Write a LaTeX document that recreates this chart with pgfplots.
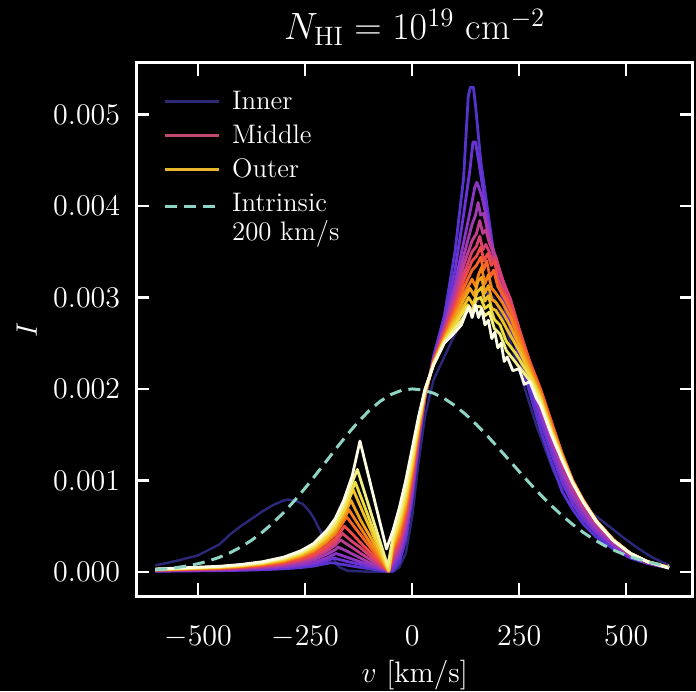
\RequirePackage{fix-cm}
\documentclass[border=0pt]{standalone}
\usepackage{fontspec}
\usepackage{pgfplots}
\pgfplotsset{compat=1.18}
\usetikzlibrary{backgrounds}
\definecolor{c0}{HTML}{2C2878}
\definecolor{c1}{HTML}{5533CC}
\definecolor{c2}{HTML}{6A33D6}
\definecolor{c3}{HTML}{8A35C8}
\definecolor{c4}{HTML}{A23AB0}
\definecolor{c5}{HTML}{C03C90}
\definecolor{c6}{HTML}{D84070}
\definecolor{c7}{HTML}{EE4A48}
\definecolor{c8}{HTML}{F56428}
\definecolor{c9}{HTML}{F58218}
\definecolor{c10}{HTML}{F2A21A}
\definecolor{c11}{HTML}{F0C028}
\definecolor{c12}{HTML}{EEDC40}
\definecolor{c13}{HTML}{F2EE88}
\definecolor{c14}{HTML}{FBFBE6}
\definecolor{legin}{HTML}{2E2A78}
\definecolor{legmid}{HTML}{C04A6E}
\definecolor{legout}{HTML}{E8B82C}
\definecolor{intr}{HTML}{8ED3C3}
\pgfplotsset{
  lineleg/.style={legend image code/.code={\draw[##1] (0pt,1.3pt) -- (26.7pt,1.3pt);}},
  dashleg/.style={legend image code/.code={\draw[##1] (0pt,-0.3pt) -- (26.7pt,-0.3pt);}},
}
\begin{document}
\begin{tikzpicture}
\begin{axis}[
  scale only axis, width=278.25pt, height=266.5pt,
  xmin=-644, xmax=656, ymin=-0.000265, ymax=0.005565,
  axis line style={white, line width=1.5pt},
  tick style={white, line width=1.25pt},
  major tick length=6.5pt,
  tick align=inside,
  xtick={-500,-250,0,250,500},
  ytick={0,0.001,0.002,0.003,0.004,0.005},
  minor tick num=0,
  scaled y ticks=false,
  tick label style={white, font=\fontsize{15}{18}\selectfont},
  y tick label style={/pgf/number format/fixed, /pgf/number format/fixed zerofill, /pgf/number format/precision=3, anchor=east, inner sep=0pt, xshift=-8pt},
  x tick label style={anchor=base, yshift=-24.5pt},
  xlabel={$v$ [km/s]},
  ylabel={$I$},
  xlabel style={at={(axis description cs:0.5,-0.1614)}, anchor=base, white, font=\fontsize{14.8}{17}\selectfont},
  ylabel style={at={(axis description cs:-0.1973,0.5)}, anchor=center, white, font=\fontsize{14.8}{17}\selectfont},
  every axis title shift=0pt,
  title={$N_{\mathrm{HI}} = 10^{19}\ \mathrm{cm}^{-2}$},
  title style={at={(axis description cs:0.5,1.0432)}, anchor=base, white, font=\fontsize{19}{22}\selectfont},
  no markers,
  every axis plot/.append style={line width=1.4pt, line join=round},
  legend cell align=left,
  legend style={at={(axis description cs:0.0482,0.9467)}, anchor=north west, draw=none, fill=none, text=white,
    font=\fontsize{13.4}{14}\selectfont, row sep=5pt, column sep=6pt, inner sep=0pt,
    nodes={inner sep=0pt, text height=9pt, text depth=3pt}},
]
% Inner (navy)
\addplot[c0, line width=1.2pt, forget plot] coordinates {(-600,0.00007) (-550,0.00012) (-500,0.00018) (-450,0.0003) (-425,0.00041) (-400,0.0005) (-375,0.00058) (-350,0.00066) (-325,0.00073) (-300,0.00078) (-290,0.00079) (-275,0.00078) (-255,0.00074) (-240,0.00066) (-230,0.00059) (-215,0.00045) (-200,0.0003) (-185,0.00015) (-170,0.00005) (-150,0.00001) (-100,0) (-45,0) (-30,0.00005) (-15,0.0002) (0,0.0006) (15,0.0012) (30,0.0017) (50,0.0021) (80,0.0024) (100,0.0026) (120,0.0028) (140,0.0029) (160,0.003) (175,0.00305) (190,0.003) (210,0.0028) (230,0.0025) (250,0.0022) (270,0.0019) (290,0.0016) (310,0.00135) (330,0.0011) (350,0.00092) (380,0.0008) (410,0.00068) (440,0.00057) (470,0.00046) (500,0.00035) (530,0.00025) (560,0.00016) (600,0.00007)};
\addplot[c1, forget plot] coordinates {(-600,0.000006) (-550,0.000008) (-500,0.00001) (-450,0.000012) (-400,0.000016) (-350,0.000022) (-300,0.000032) (-260,0.000046) (-230,0.000062) (-200,0.00009) (-190,0.0001) (-160,0.000078) (-130,0.000055) (-100,0.000033) (-75,0.000015) (-55,0.000002) (-45,0.00001) (-30,0.0001) (-15,0.00035) (0,0.0008) (15,0.0014) (30,0.0019) (50,0.00236) (75,0.0028) (100,0.0035) (120,0.0043) (131,0.0052) (136,0.0053) (143,0.0053) (148,0.0051) (160,0.0045) (175,0.004) (193,0.0034) (210,0.003) (230,0.00265) (250,0.00235) (272,0.002) (300,0.00155) (325,0.0012) (350,0.00088) (375,0.00068) (400,0.00052) (430,0.00038) (470,0.00025) (510,0.00015) (550,0.00009) (600,0.00004)};
\addplot[c2, forget plot] coordinates {(-600,0.000008) (-550,0.000011) (-500,0.000014) (-450,0.000016) (-400,0.000022) (-350,0.00003) (-300,0.000043) (-260,0.000062) (-230,0.000084) (-200,0.00012) (-183,0.00015) (-150,0.00011) (-120,0.00008) (-90,0.000045) (-70,0.00002) (-55,0.000005) (-45,0.000045) (-30,0.00015) (-15,0.0004) (0,0.00084) (15,0.00142) (30,0.00191) (50,0.00234) (75,0.00275) (100,0.0033) (120,0.0039) (135,0.0044) (142,0.0047) (148,0.0047) (155,0.0045) (165,0.0042) (175,0.0039) (190,0.00345) (210,0.00305) (230,0.00272) (250,0.00242) (275,0.00205) (300,0.00165) (325,0.0013) (350,0.00098) (375,0.00074) (400,0.00057) (430,0.00042) (470,0.00027) (510,0.00016) (550,0.000095) (600,0.000042)};
\addplot[c3, forget plot] coordinates {(-600,0.00001) (-550,0.000013) (-500,0.000017) (-450,0.00002) (-400,0.000026) (-350,0.000036) (-300,0.000053) (-260,0.000076) (-230,0.0001) (-200,0.00015) (-178,0.0002) (-150,0.000155) (-125,0.000115) (-100,0.000075) (-80,0.00004) (-55,0.000005) (-45,0.000076) (-30,0.00019) (-15,0.00045) (0,0.00088) (15,0.00145) (30,0.00192) (50,0.00233) (75,0.0027) (100,0.00315) (120,0.0036) (138,0.004) (146,0.0042) (151,0.00426) (156,0.0042) (163,0.0041) (175,0.00385) (190,0.0035) (210,0.00312) (230,0.0028) (250,0.0025) (275,0.00212) (300,0.00173) (325,0.00138) (350,0.00105) (375,0.0008) (400,0.00062) (430,0.00045) (470,0.00029) (510,0.00017) (550,0.0001) (600,0.000044)};
\addplot[c4, forget plot] coordinates {(-600,0.000013) (-550,0.000017) (-500,0.000021) (-450,0.000025) (-400,0.000034) (-350,0.000046) (-300,0.000067) (-260,0.000097) (-230,0.00013) (-200,0.00019) (-180,0.00024) (-173,0.00027) (-150,0.00022) (-125,0.00016) (-100,0.0001) (-80,0.00006) (-55,0.000005) (-45,0.000107) (-30,0.00023) (-15,0.00049) (0,0.00092) (15,0.00147) (30,0.00192) (50,0.00232) (75,0.00268) (100,0.00308) (120,0.00345) (140,0.0038) (148,0.0039) (154,0.00404) (160,0.0039) (167,0.00392) (180,0.00365) (195,0.00345) (210,0.0032) (230,0.00288) (250,0.00256) (275,0.00218) (300,0.0018) (325,0.00145) (350,0.00112) (375,0.00086) (400,0.00067) (430,0.00048) (470,0.00031) (510,0.00018) (550,0.0001) (600,0.000046)};
\addplot[c5, forget plot] coordinates {(-600,0.000015) (-550,0.00002) (-500,0.000025) (-450,0.00003) (-400,0.00004) (-350,0.000055) (-300,0.00008) (-260,0.000115) (-230,0.000155) (-200,0.000225) (-180,0.00029) (-168,0.00035) (-145,0.00028) (-120,0.0002) (-100,0.00014) (-80,0.00008) (-55,0.000005) (-45,0.00014) (-30,0.00028) (-15,0.00055) (0,0.00097) (15,0.00149) (30,0.00193) (50,0.00231) (75,0.00265) (100,0.003) (120,0.00335) (140,0.00362) (150,0.0037) (158,0.00384) (165,0.0037) (172,0.00374) (180,0.0036) (195,0.00342) (210,0.00322) (230,0.00295) (250,0.00262) (275,0.00224) (300,0.00188) (325,0.00152) (350,0.00119) (375,0.00092) (400,0.00072) (430,0.00052) (470,0.00033) (510,0.00019) (550,0.000105) (600,0.000048)};
\addplot[c6, forget plot] coordinates {(-600,0.000017) (-550,0.000022) (-500,0.000028) (-450,0.000034) (-400,0.000045) (-350,0.000062) (-300,0.00009) (-260,0.00013) (-230,0.00017) (-200,0.00025) (-180,0.00032) (-163,0.00042) (-140,0.00033) (-120,0.00026) (-100,0.00018) (-80,0.0001) (-55,0.000005) (-45,0.00017) (-30,0.00032) (-15,0.00059) (0,0.001) (15,0.00151) (30,0.00194) (50,0.0023) (75,0.00262) (100,0.00295) (120,0.00325) (140,0.0035) (150,0.00356) (158,0.00367) (165,0.00352) (172,0.00358) (180,0.0035) (188,0.0034) (195,0.00345) (210,0.0032) (230,0.00298) (250,0.00266) (275,0.00228) (300,0.00195) (325,0.00158) (350,0.00125) (375,0.00096) (400,0.00075) (430,0.00054) (470,0.00034) (510,0.0002) (550,0.00011) (600,0.00005)};
\addplot[c7, forget plot] coordinates {(-600,0.000019) (-550,0.000025) (-500,0.000031) (-450,0.000037) (-400,0.00005) (-350,0.000068) (-300,0.0001) (-260,0.00014) (-230,0.00019) (-200,0.00028) (-180,0.00036) (-158,0.0005) (-135,0.00039) (-115,0.00029) (-95,0.0002) (-75,0.0001) (-55,0.000005) (-45,0.0002) (-30,0.00036) (-15,0.00064) (0,0.00104) (15,0.00153) (30,0.00194) (50,0.0023) (75,0.0026) (100,0.0029) (120,0.00318) (140,0.0034) (150,0.00345) (160,0.00355) (168,0.0034) (176,0.00348) (185,0.00335) (193,0.0034) (200,0.0032) (215,0.00305) (230,0.00292) (250,0.00265) (275,0.0023) (300,0.002) (325,0.00165) (350,0.0013) (375,0.001) (400,0.00078) (430,0.00056) (470,0.00035) (510,0.0002) (550,0.00011) (600,0.00005)};
\addplot[c8, forget plot] coordinates {(-600,0.000021) (-550,0.000028) (-500,0.000035) (-450,0.000042) (-400,0.000056) (-350,0.000077) (-300,0.00011) (-260,0.00016) (-230,0.00022) (-200,0.00032) (-180,0.00041) (-153,0.0006) (-130,0.00046) (-110,0.00034) (-90,0.00022) (-70,0.0001) (-55,0.000005) (-45,0.00023) (-30,0.0004) (-15,0.00068) (0,0.00108) (15,0.00155) (30,0.00195) (50,0.00229) (75,0.00258) (100,0.00286) (120,0.0031) (140,0.0033) (150,0.00335) (160,0.00344) (167,0.0033) (174,0.0034) (182,0.00322) (190,0.0033) (200,0.00312) (215,0.003) (230,0.00286) (250,0.0026) (275,0.00227) (300,0.00198) (325,0.00163) (350,0.00129) (375,0.00099) (400,0.00078) (430,0.00056) (470,0.00035) (510,0.0002) (550,0.00011) (600,0.00005)};
\addplot[c9, forget plot] coordinates {(-600,0.000022) (-550,0.000029) (-500,0.000037) (-450,0.000044) (-400,0.000058) (-350,0.00008) (-300,0.000117) (-260,0.00017) (-230,0.00023) (-200,0.00033) (-180,0.00042) (-160,0.00057) (-148,0.00068) (-125,0.00051) (-100,0.00033) (-80,0.00019) (-55,0.00001) (-45,0.00026) (-30,0.00044) (-15,0.00071) (0,0.00111) (15,0.00157) (30,0.00196) (50,0.00229) (75,0.00256) (100,0.00282) (120,0.00303) (140,0.0032) (148,0.00312) (155,0.00325) (162,0.00333) (170,0.00315) (178,0.00325) (186,0.0031) (195,0.00305) (210,0.00295) (230,0.00278) (250,0.00254) (275,0.00224) (300,0.00196) (325,0.0016) (350,0.00128) (375,0.00099) (400,0.00078) (430,0.00056) (470,0.00035) (510,0.0002) (550,0.00011) (600,0.000048)};
\addplot[c10, forget plot] coordinates {(-600,0.000023) (-550,0.000031) (-500,0.000039) (-450,0.000047) (-400,0.000062) (-350,0.000086) (-300,0.000125) (-260,0.00018) (-230,0.00024) (-200,0.00035) (-180,0.00045) (-160,0.00061) (-143,0.00078) (-120,0.00056) (-100,0.0004) (-80,0.00023) (-55,0.00001) (-45,0.00028) (-30,0.00047) (-15,0.00075) (0,0.00114) (15,0.00159) (30,0.00196) (50,0.00228) (75,0.00255) (100,0.00278) (120,0.00297) (135,0.0031) (145,0.00302) (154,0.00318) (162,0.00322) (170,0.00305) (178,0.00313) (186,0.00298) (195,0.00295) (210,0.00285) (230,0.00268) (250,0.00248) (275,0.0022) (300,0.00193) (325,0.00158) (350,0.00127) (375,0.00099) (400,0.00077) (430,0.00056) (470,0.00035) (510,0.0002) (550,0.00011) (600,0.000046)};
\addplot[c11, forget plot] coordinates {(-600,0.000025) (-550,0.000033) (-500,0.000042) (-450,0.00005) (-400,0.000066) (-350,0.000091) (-300,0.00013) (-260,0.00019) (-230,0.00026) (-200,0.00037) (-180,0.00048) (-160,0.00065) (-150,0.00076) (-138,0.0009) (-115,0.00065) (-95,0.00044) (-75,0.00022) (-55,0.00001) (-45,0.00031) (-30,0.00051) (-15,0.00079) (0,0.00117) (15,0.0016) (30,0.00197) (50,0.00228) (75,0.00254) (100,0.00274) (120,0.0029) (132,0.003) (142,0.00292) (152,0.00306) (162,0.00311) (170,0.00296) (178,0.00302) (186,0.00288) (195,0.00286) (210,0.00275) (230,0.00258) (250,0.00242) (275,0.00217) (300,0.00191) (325,0.00156) (350,0.00126) (375,0.00098) (400,0.00077) (430,0.000555) (470,0.000345) (510,0.0002) (550,0.00011) (600,0.000045)};
\addplot[c12, forget plot] coordinates {(-600,0.000026) (-550,0.000034) (-500,0.000043) (-450,0.000052) (-400,0.000069) (-350,0.000095) (-300,0.00014) (-260,0.0002) (-230,0.00027) (-200,0.00039) (-180,0.0005) (-160,0.00067) (-145,0.00084) (-133,0.00098) (-110,0.0007) (-90,0.00045) (-75,0.00027) (-55,0.00002) (-45,0.00034) (-30,0.00055) (-15,0.00084) (0,0.00121) (15,0.00163) (30,0.00198) (50,0.00227) (75,0.00252) (100,0.0027) (120,0.00285) (130,0.00292) (140,0.00285) (150,0.00298) (160,0.003) (170,0.00288) (180,0.00292) (192,0.00276) (205,0.0027) (220,0.00252) (240,0.0024) (260,0.00225) (280,0.0021) (300,0.00188) (325,0.00154) (350,0.00125) (375,0.00098) (400,0.00077) (430,0.000555) (470,0.000345) (510,0.0002) (550,0.00011) (600,0.000043)};
\addplot[c13, forget plot] coordinates {(-600,0.000028) (-550,0.000037) (-500,0.000047) (-450,0.000056) (-400,0.000074) (-350,0.0001) (-300,0.00015) (-260,0.00021) (-230,0.00029) (-200,0.00042) (-180,0.00054) (-160,0.00073) (-140,0.00098) (-128,0.00112) (-110,0.00085) (-90,0.00055) (-75,0.00033) (-57,0.00006) (-45,0.00038) (-30,0.00061) (-15,0.0009) (0,0.00127) (15,0.00166) (30,0.00199) (50,0.00227) (75,0.00251) (100,0.00266) (120,0.00278) (130,0.00288) (140,0.00282) (150,0.0029) (160,0.0029) (170,0.0028) (180,0.00284) (192,0.00266) (205,0.0026) (220,0.00242) (240,0.0023) (260,0.00218) (280,0.00206) (300,0.00185) (325,0.00152) (350,0.00123) (375,0.00097) (400,0.00076) (430,0.00055) (470,0.00034) (510,0.0002) (550,0.00011) (600,0.000042)};
\addplot[c14, forget plot] coordinates {(-600,0.00003) (-550,0.00004) (-500,0.00005) (-450,0.00006) (-400,0.00008) (-350,0.00011) (-300,0.00016) (-260,0.00023) (-230,0.00031) (-200,0.00045) (-180,0.00058) (-160,0.00078) (-140,0.00105) (-122,0.00143) (-100,0.00101) (-80,0.00063) (-60,0.00025) (-45,0.00045) (-30,0.0007) (-15,0.001) (0,0.00135) (15,0.0017) (30,0.002) (50,0.00226) (75,0.0025) (100,0.00262) (115,0.0027) (125,0.00282) (133,0.0029) (140,0.00278) (148,0.00292) (155,0.00278) (162,0.00288) (170,0.0027) (178,0.00275) (186,0.00255) (193,0.00262) (200,0.00245) (208,0.0025) (215,0.0023) (222,0.00235) (235,0.0022) (250,0.00222) (262,0.00205) (275,0.00208) (290,0.0019) (300,0.00182) (325,0.0015) (350,0.00122) (375,0.00097) (400,0.00076) (430,0.00055) (470,0.00034) (510,0.0002) (550,0.00011) (600,0.00004)};
% Intrinsic
\addplot[intr, line width=1.5pt, dash pattern=on 6pt off 3.5pt, forget plot] coordinates {(-600,0.000022) (-575,0.000032) (-550,0.000046) (-525,0.000064) (-500,0.000088) (-475,0.000119) (-450,0.000159) (-425,0.000209) (-400,0.000271) (-375,0.000345) (-350,0.000433) (-325,0.000534) (-300,0.000649) (-275,0.000777) (-250,0.000916) (-225,0.001062) (-200,0.001213) (-175,0.001364) (-150,0.00151) (-125,0.001645) (-100,0.001765) (-75,0.001864) (-50,0.001938) (-25,0.001984) (0,0.002) (25,0.001988) (50,0.001953) (75,0.001895) (100,0.001817) (125,0.001721) (150,0.001611) (175,0.00149) (200,0.001361) (225,0.001229) (250,0.001096) (275,0.000966) (300,0.000842) (325,0.000724) (350,0.000616) (375,0.000517) (400,0.000429) (425,0.000352) (450,0.000285) (475,0.000228) (500,0.000181) (525,0.000141) (550,0.000109) (575,0.000083) (600,0.000063)};
\addlegendimage{lineleg, legin, line width=1.4pt}
\addlegendentry{Inner}
\addlegendimage{lineleg, legmid, line width=1.4pt}
\addlegendentry{Middle}
\addlegendimage{lineleg, legout, line width=1.4pt}
\addlegendentry{Outer}
\addlegendimage{dashleg, intr, line width=1.5pt, dash pattern=on 6pt off 3.5pt}
\addlegendentry{\begin{tabular}[t]{@{}l@{}}Intrinsic\\200 km/s\end{tabular}}
\end{axis}
\pgfresetboundingbox
\begin{scope}[on background layer]
\fill[black] ([xshift=-68.25pt,yshift=-47.5pt]current axis.south west) rectangle ([xshift=1.5pt,yshift=31.5pt]current axis.north east);
\end{scope}
\end{tikzpicture}
\end{document}
